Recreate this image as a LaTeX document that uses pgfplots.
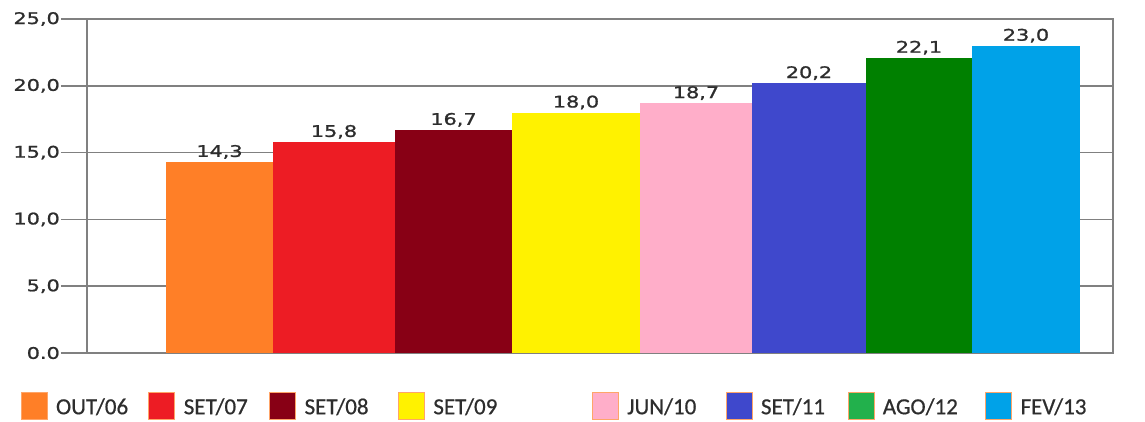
\documentclass[border=0pt]{standalone}
\usepackage{fontspec}
\setmainfont{Carlito}
\newfontfamily\numfont[FakeStretch=1.3,FakeBold=1.2]{DejaVu Sans}
\newfontfamily\legfont[FakeBold=0.6]{Carlito}
\usepackage{pgfplots}
\pgfplotsset{compat=1.18}
\definecolor{cOrange}{RGB}{255,127,39}
\definecolor{cRed}{RGB}{237,28,36}
\definecolor{cDark}{RGB}{136,0,21}
\definecolor{cYellow}{RGB}{255,242,0}
\definecolor{cPink}{RGB}{255,174,201}
\definecolor{cBlue}{RGB}{63,72,204}
\definecolor{cGreen}{RGB}{0,128,0}
\definecolor{cGreenL}{RGB}{34,177,76}
\definecolor{cCyan}{RGB}{0,162,232}
\definecolor{cAxis}{RGB}{128,128,128}
\definecolor{cText}{RGB}{45,45,45}
\begin{document}
\begin{tikzpicture}
\path[use as bounding box] (-87pt,-68pt) rectangle (1058pt,353pt);
\begin{axis}[
  at={(0pt,0pt)}, anchor=south west,
  scale only axis, width=1026pt, height=334pt,
  xmin=87, xmax=1113, ymin=0, ymax=25,
  xtick=\empty,
  ytick={0,5,10,15,20,25},
  yticklabels={0.0,{5,0},{10,0},{15,0},{20,0},{25,0}},
  ymajorgrids,
  grid style={draw=cAxis, line width=1.5pt},
  axis line style={draw=cAxis, line width=1.5pt},
  tick style={draw=cAxis, line width=1.5pt},
  major tick length=26pt, tick align=outside, ytick pos=left,
  yticklabel style={font=\numfont\fontsize{16}{18}\selectfont, text=cText, inner xsep=1pt},
  every node near coord/.append style={font=\numfont\fontsize{16}{18}\selectfont, text=cText, inner sep=1pt, yshift=2pt},
  legend columns=8,
  legend style={at={(rel axis cs:0,0)}, anchor=west, xshift=-66.5pt, yshift=-52.5pt,
    draw=none, fill=none, inner sep=0pt, column sep=0pt,
    nodes={inner xsep=2.5pt, inner ysep=0pt},
    font=\legfont\fontsize{23}{26}\selectfont, text=cText},
  legend image code/.code={\draw[#1, line width=0.8pt] (0pt,-12pt) rectangle (26pt,15pt);},
]
\addlegendimage{fill=cOrange, draw=cOrange!70}
\addlegendentry{\makebox[96pt][l]{\hspace*{6pt}OUT/06}}
\addlegendimage{fill=cRed, draw=cOrange!70}
\addlegendentry{\makebox[89pt][l]{\hspace*{6pt}SET/07}}
\addlegendimage{fill=cDark, draw=cOrange!70}
\addlegendentry{\makebox[97pt][l]{\hspace*{6pt}SET/08}}
\addlegendimage{fill=cYellow, draw=cOrange!70}
\addlegendentry{\makebox[162pt][l]{\hspace*{6pt}SET/09}}
\addlegendimage{fill=cPink, draw=cOrange!70}
\addlegendentry{\makebox[102pt][l]{\hspace*{6pt}JUN/10}}
\addlegendimage{fill=cBlue, draw=cOrange!70}
\addlegendentry{\makebox[90pt][l]{\hspace*{6pt}SET/11}}
\addlegendimage{fill=cGreenL, draw=cOrange!70}
\addlegendentry{\makebox[106pt][l]{\hspace*{6pt}AGO/12}}
\addlegendimage{fill=cCyan, draw=cOrange!70}
\addlegendentry{\hspace*{6pt}FEV/13}

\addplot[ybar, bar width=107, bar shift=0pt, fill=cOrange, draw=none, nodes near coords, point meta=explicit symbolic] coordinates {(219.5,14.3) [14,3]};
\addplot[ybar, bar width=122, bar shift=0pt, fill=cRed, draw=none, nodes near coords, point meta=explicit symbolic] coordinates {(334,15.8) [15,8]};
\addplot[ybar, bar width=117, bar shift=0pt, fill=cDark, draw=none, nodes near coords, point meta=explicit symbolic] coordinates {(453.5,16.7) [16,7]};
\addplot[ybar, bar width=128, bar shift=0pt, fill=cYellow, draw=none, nodes near coords, point meta=explicit symbolic] coordinates {(576,18.0) [18,0]};
\addplot[ybar, bar width=112, bar shift=0pt, fill=cPink, draw=none, nodes near coords, point meta=explicit symbolic] coordinates {(696,18.7) [18,7]};
\addplot[ybar, bar width=114, bar shift=0pt, fill=cBlue, draw=none, nodes near coords, point meta=explicit symbolic] coordinates {(809,20.2) [20,2]};
\addplot[ybar, bar width=106, bar shift=0pt, fill=cGreen, draw=none, nodes near coords, point meta=explicit symbolic] coordinates {(919,22.1) [22,1]};
\addplot[ybar, bar width=108, bar shift=0pt, fill=cCyan, draw=none, nodes near coords, point meta=explicit symbolic] coordinates {(1026,23.0) [23,0]};
\end{axis}
\end{tikzpicture}
\end{document}
